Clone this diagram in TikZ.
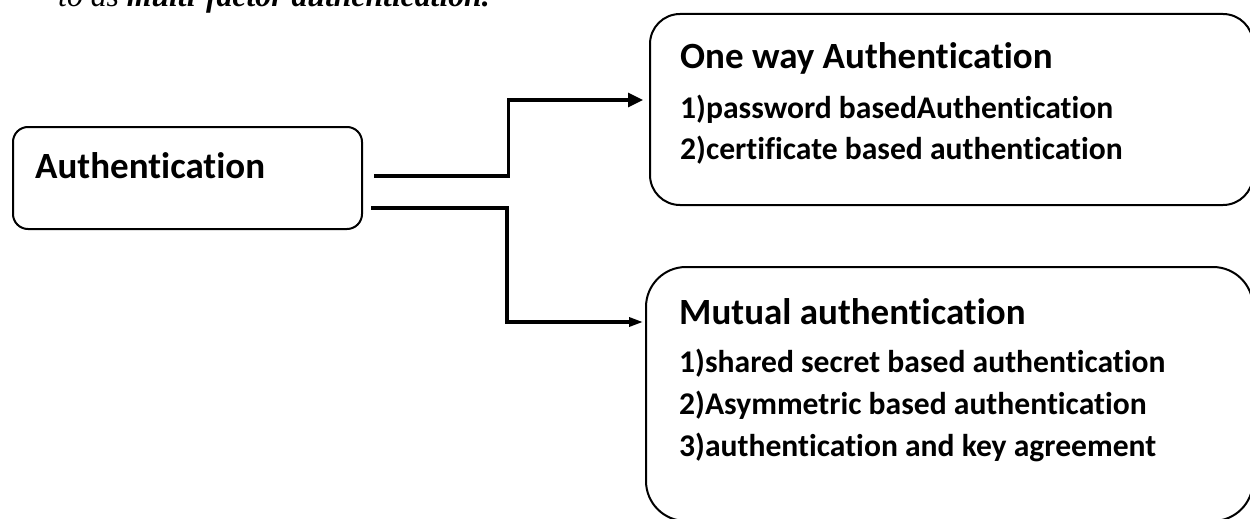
\documentclass[tikz,border=0pt]{standalone}
\usepackage{fontspec}
\setmainfont[Ligatures={NoCommon}]{Carlito}
\newfontfamily\bodyserif{Liberation Serif}
\usetikzlibrary{arrows.meta,calc}

\tikzset{
  box/.style={draw=black, line width=2pt, rounded corners=#1, inner sep=0pt, anchor=north west},
  head/.style={anchor=base west, inner sep=0pt, font=\fontsize{37}{44}\selectfont\bfseries},
  item/.style={anchor=base west, inner sep=0pt, font=\fontsize{31.6}{38}\selectfont\bfseries},
  conn/.style={draw=black, line width=3.2pt},
}

\begin{document}
\begin{tikzpicture}[x=1pt,y=-1pt]
\useasboundingbox (0,0) rectangle (1250,519);
\clip (0,0) rectangle (1250,519);

% trailing line of the running text above the figure
\node[anchor=base west, inner sep=0pt, font=\bodyserif\fontsize{31.7}{38}\selectfont\itshape]
  (prose) at (58,7) {to as \textbf{multi-factor authentication.}};

% the three boxes
\node[box=15pt, minimum width=349pt, minimum height=102pt] (auth) at (12,126) {};
\node[box=30pt, minimum width=603pt, minimum height=191pt] (oneway) at (649,13) {};
\node[box=40pt, minimum width=607pt, minimum height=254pt] (mutual) at (645,266) {};

% texts
\node[head] (authT) at (35,178) {Authentication};

\node[head] (oneT) at (680,69) {One way Authentication};
\node[item] (one1) at (680,118) {1)password basedAuthentication};
\node[item] (one2) at (680,159) {2)certificate based authentication};

\node[head] (mutT) at (679,324) {Mutual authentication};
\node[item] (mut1) at (679,372) {1)shared secret based authentication};
\node[item] (mut2) at (679,414) {2)Asymmetric based authentication};
\node[item] (mut3) at (679,456) {3)authentication and key agreement};

% connectors
\coordinate (a1) at ([xshift=11pt]auth.east |- 0,176);
\coordinate (b1) at ([xshift=-6pt]oneway.west |- 0,100);
\coordinate (m1) at ($(a1)!0.5!(b1)$);
\draw[conn, -{Triangle[length=15pt,width=14pt]}]
  (a1) -- (a1 -| m1) -- (m1 |- b1) -- (b1);

\coordinate (a2) at ([xshift=8pt]auth.east |- 0,208);
\coordinate (b2) at ([xshift=-2pt]mutual.west |- 0,322);
\coordinate (m2) at ($(a2)!0.5!(b2)$);
\draw[conn, -{Triangle[length=14pt,width=9pt]}]
  (a2) -- (a2 -| m2) -- (m2 |- b2) -- (b2);
\end{tikzpicture}
\end{document}
